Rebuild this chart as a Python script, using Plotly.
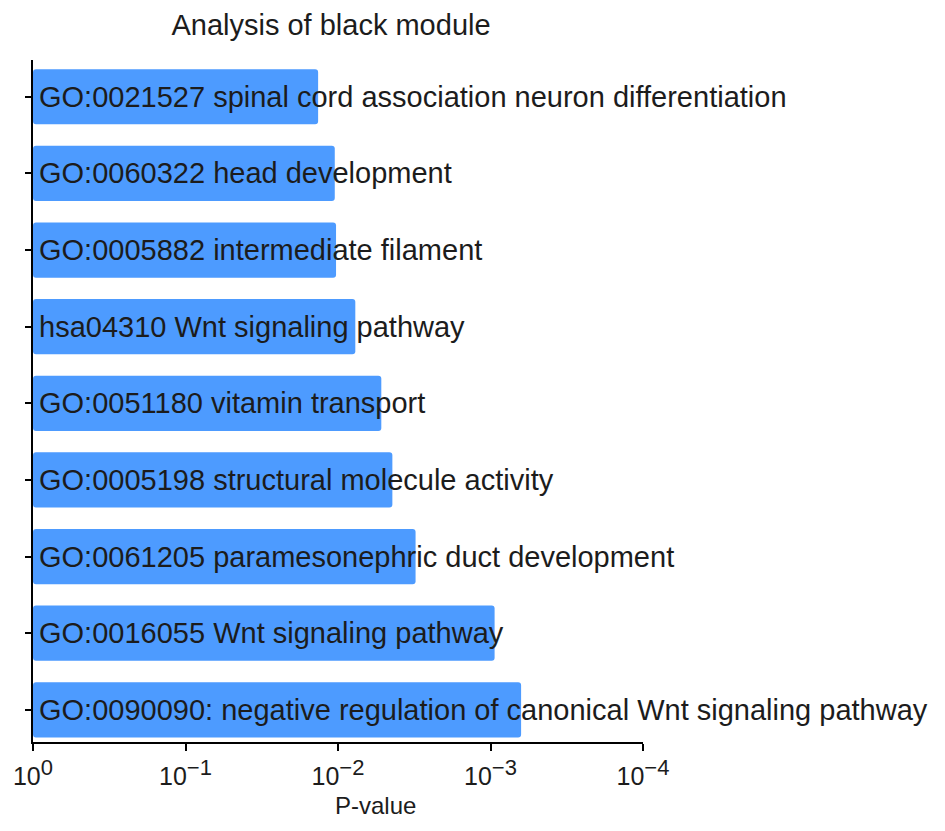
import plotly.graph_objects as go

terms = [
    "GO:0021527 spinal cord association neuron differentiation",
    "GO:0060322 head development",
    "GO:0005882 intermediate filament",
    "hsa04310 Wnt signaling pathway",
    "GO:0051180 vitamin transport",
    "GO:0005198 structural molecule activity",
    "GO:0061205 paramesonephric duct development",
    "GO:0016055 Wnt signaling pathway",
    "GO:0090090: negative regulation of canonical Wnt signaling pathway",
]
pvalues = [0.0135, 0.0105, 0.0103, 0.0077, 0.0052, 0.0044, 0.0031, 0.00094, 0.00063]
tick_vals = [1, 0.1, 0.01, 0.001, 0.0001]
tick_exps = ["0", "\u22121", "\u22122", "\u22123", "\u22124"]
tick_text = ['10<sup><span style="font-size:22px">%s</span></sup>' % e for e in tick_exps]

FONT = "Liberation Sans, Arial, Helvetica, sans-serif"
TXT = "#1c1c1c"
ypos = list(range(len(terms)))

# page body has an 8px margin; figure sized to fit the window
OFF = 8
W, H = 945 - OFF, 831 - OFF
L, R, T, B = 33 - OFF, 945 - 643, 60 - OFF, 831 - 742

fig = go.Figure()
fig.add_trace(go.Bar(
    y=ypos,
    x=[p - 1 for p in pvalues],
    base=[1] * len(pvalues),
    orientation="h",
    width=0.72,
    marker=dict(color="#4d9bff", line=dict(width=0), cornerradius=3),
    hoverinfo="skip",
))

for i, t in enumerate(terms):
    fig.add_annotation(
        x=0, y=i, xref="x", yref="y", text=t, showarrow=False,
        xanchor="left", yanchor="middle", xshift=4,
        font=dict(size=29, color=TXT, family=FONT),
    )

plot_w = W - L - R
plot_h = H - T - B
fig.add_annotation(
    xref="paper", yref="paper",
    x=(375 - 33) / plot_w, y=(742 - 805) / plot_h,
    text="P-value", showarrow=False, xanchor="center", yanchor="middle",
    font=dict(size=24, color=TXT, family=FONT),
)

fig.update_layout(
    width=W, height=H,
    margin=dict(l=L, r=R, t=T, b=B, autoexpand=False),
    paper_bgcolor="white", plot_bgcolor="white",
    showlegend=False,
    font=dict(family=FONT, color=TXT),
    title=dict(text="Analysis of black module", x=(331 - OFF) / W, xanchor="center",
               y=1 - (25 - OFF) / H, yanchor="middle", xref="container", yref="container",
               font=dict(size=29, color=TXT)),
)
fig.update_xaxes(
    type="log", range=[0, -4], automargin=False,
    tickvals=tick_vals, ticktext=tick_text,
    ticks="outside", ticklen=7, tickwidth=2, tickcolor="black",
    ticklabelstandoff=4,
    showline=True, linecolor="black", linewidth=2,
    showgrid=False, zeroline=False,
    tickfont=dict(size=25, color=TXT),
)
fig.update_yaxes(
    range=[len(terms) - 0.58, -0.48], automargin=False,
    tickvals=ypos, ticktext=[""] * len(terms),
    ticks="outside", ticklen=6, tickwidth=1.5, tickcolor="black",
    showline=True, linecolor="black", linewidth=2,
    showgrid=False, zeroline=False,
)

fig.write_html("out.html")
